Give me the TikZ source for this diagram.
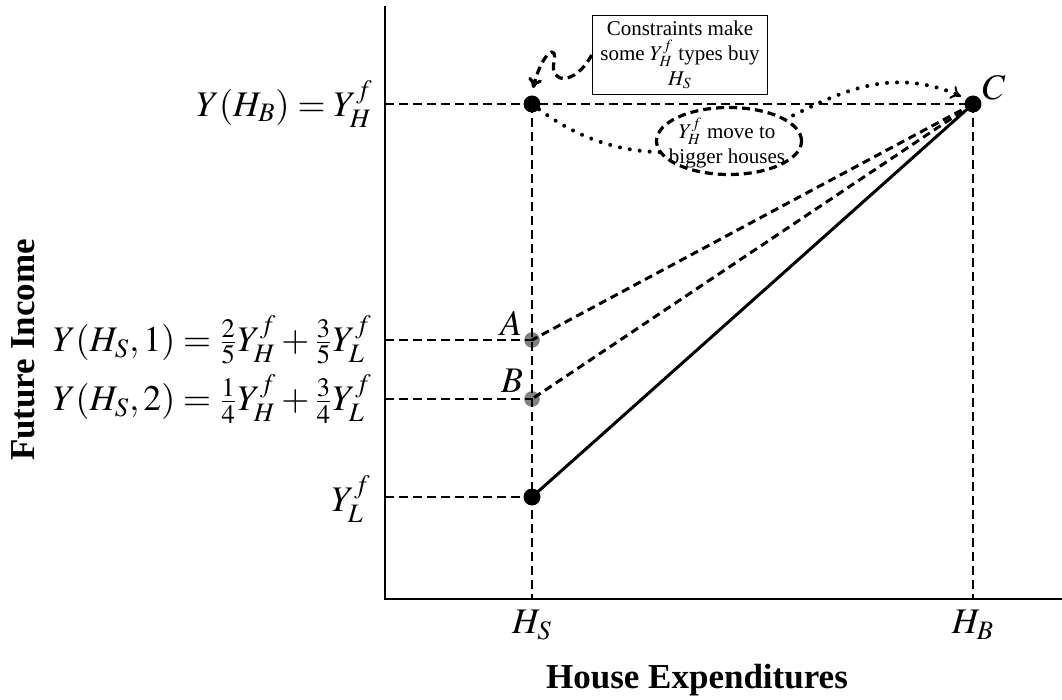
\documentclass[tikz,border=0pt]{standalone}
\usepackage{mathptmx}
\usepackage{fontspec}
\setmainfont{Liberation Serif}
\usetikzlibrary{shapes.geometric,arrows.meta}
\begin{document}
\begin{tikzpicture}[x=0.5pt,y=-0.5pt,
  axisline/.style={line width=0.8pt},
  guide/.style={line width=0.75pt, dash pattern=on 4.5pt off 2.5pt},
  budget/.style={line width=1.5pt, dash pattern=on 4pt off 2.5pt},
  solidbudget/.style={line width=1.5pt},
  dot/.style={circle, fill=black, inner sep=0pt, minimum size=8.5pt},
  greydot/.style={dot, fill=gray, minimum size=7.8pt},
  mlabel/.style={font=\fontsize{18}{21}\selectfont, inner sep=0pt},
  axtitle/.style={font=\fontsize{17.5}{20}\selectfont\bfseries, inner sep=0pt},
  note/.style={font=\fontsize{10.5}{12.5}\selectfont, align=center, inner sep=0pt},
  dotted curve/.style={line width=2pt, line cap=round, dash pattern=on 0pt off 5pt},
  curly/.style={line width=1.6pt, dash pattern=on 4pt off 2.5pt}
]
\useasboundingbox (0,0) rectangle (1062,700);

% axes
\coordinate (top) at (385,6);
\coordinate (origin) at (385,599);
\coordinate (right) at (1062,599);
\draw[axisline] (top) -- (origin) -- (right);

% axis anchor points
\coordinate (yhaxis) at (385,104);
\coordinate (aaxis) at (385,340);
\coordinate (baxis) at (385,399);
\coordinate (ylaxis) at (385,497);
\coordinate (hs) at (532,599);
\coordinate (hb) at (973,599);

\node[greydot] (A) at (532,340) {};
\node[greydot] (B) at (532,399) {};

% guide lines
\draw[guide] (yhaxis) -- (973,104);
\draw[guide] (aaxis) -- (A.center);
\draw[guide] (baxis) -- (B.center);
\draw[guide] (ylaxis) -- (532,497);
\draw[guide] (532,104) -- (hs);
\draw[guide] (973,104) -- (hb);

% budget lines
\draw[budget] (973,104) -- (A.center);
\draw[budget] (973,104) -- (B.center);
\draw[solidbudget] (973,104) -- (532,497);

\node[dot] (YH) at (532,104) {};
\node[dot] (YL) at (532,497) {};
\node[dot] (C) at (973,104) {};

% point labels
\node[mlabel] (Alab) at (511,323) {$A$};
\node[mlabel] (Blab) at (512,381) {$B$};
\node[mlabel] (Clab) at (994,88) {$C$};

% axis value labels
\node[mlabel, anchor=east] (lyh) at (373,104) {$Y(H_B) = Y_H^f$};
\node[mlabel, anchor=east] (la) at (372,340) {$Y(H_S,1) = \frac{2}{5}Y_H^f + \frac{3}{5}Y_L^f$};
\node[mlabel, anchor=east] (lb) at (372,399) {$Y(H_S,2) = \frac{1}{4}Y_H^f + \frac{3}{4}Y_L^f$};
\node[mlabel, anchor=east] (lyl) at (371,499) {$Y_L^f$};
\node[mlabel] (lhs) at (532,625) {$H_S$};
\node[mlabel] (lhb) at (973,625) {$H_B$};

% axis titles
\node[axtitle] (xt) at (697,680) {House Expenditures};
\node[axtitle, rotate=90] (yt) at (23,350) {Future Income};

% dotted curve to C
\draw[dotted curve] (YH) .. controls (580,140) and (640,165) .. (720,145)
  .. controls (800,125) and (860,55) .. (956,94);
\draw[line width=1pt, -{To[length=5pt,width=7pt]}] (954,93) -- (961,96.5);

% ellipse
\node[ellipse, draw, fill=white, line width=1.6pt, dash pattern=on 4pt off 2.5pt,
      minimum width=72.5pt, minimum height=33.5pt, inner sep=0pt] (ell) at (729,141) {};
\node[note] (elltext) at (727,143) {$Y_H^f$ move to\\bigger houses};

% box
\node[draw, line width=0.8pt, note, minimum width=87.5pt, minimum height=39.5pt] (box) at (680,55)
  {Constraints make\\some $Y_H^f$ types buy\\$H_S$};

% curly arrow
\draw[curly, -{To[length=5pt,width=7pt]}] (box.west) .. controls (575,86) and (549,84) .. (554,62)
  .. controls (558,44) and (543,50) .. (533,88);
\end{tikzpicture}
\end{document}
